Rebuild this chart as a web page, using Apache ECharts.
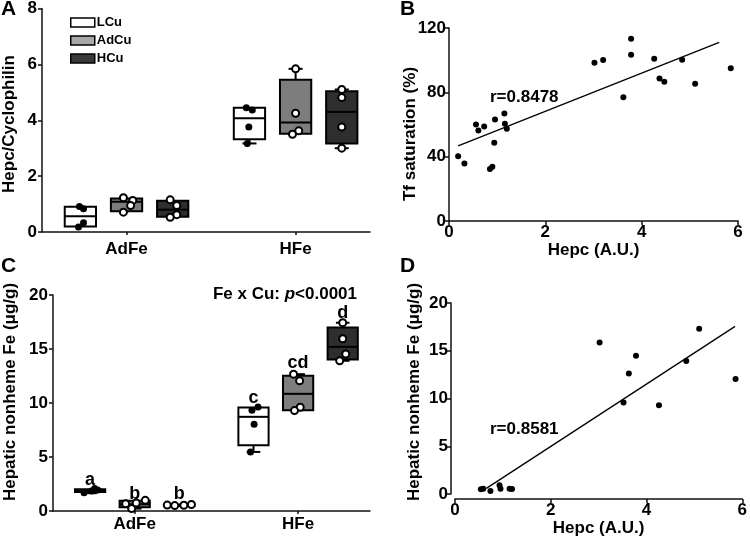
<!DOCTYPE html>
<html>
<head>
<meta charset="utf-8">
<script src="https://cdn.jsdelivr.net/npm/echarts@6/dist/echarts.min.js"></script>
<style>html,body{margin:0;padding:0;background:#fff}#c{width:750px;height:539px}</style>
</head>
<body>
<div id="c"></div>
<script>
// ---------- DATA ----------
const groups = ['LCu', 'AdCu', 'HCu'];
const categories = ['AdFe', 'HFe'];

// Panel A: Hepc/Cyclophilin, box stats [min, q1, median, q3, max] per category
const hepcBoxLCu  = [[0.18, 0.20, 0.56, 0.90, 0.91], [3.17, 3.32, 4.07, 4.45, 4.47]];
const hepcBoxAdCu = [[0.71, 0.74, 1.08, 1.20, 1.23], [3.50, 3.52, 3.92, 5.45, 5.84]];
const hepcBoxHCu  = [[0.53, 0.55, 0.80, 1.12, 1.15], [3.00, 3.17, 4.30, 5.04, 5.10]];
// Panel A: individual animals per category
const hepcPtsLCu  = [[0.91, 0.83, 0.33, 0.18], [4.45, 4.37, 3.76, 3.17]];
const hepcPtsAdCu = [[1.23, 1.13, 0.95, 0.71], [5.84, 4.25, 3.62, 3.50]];
const hepcPtsHCu  = [[1.15, 0.95, 0.62, 0.53], [5.10, 4.81, 3.76, 3.00]];
// horizontal jitter of the points, as a fraction of the box width
const hepcJitLCu  = [[-0.03, 0.1, 0.1, -0.06], [-0.1, 0.09, -0.02, -0.07]];
const hepcJitAdCu = [[-0.1, 0.2, 0.13, -0.1], [0, 0, 0.1, -0.1]];
const hepcJitHCu  = [[-0.08, 0.13, 0.13, -0.08], [0, 0, 0, 0]];

// Panel C: hepatic nonheme Fe (µg/g)
const feBoxLCu  = [[1.65, 1.75, 1.90, 2.02, 2.10], [5.47, 6.09, 8.72, 9.58, 9.64]];
const feBoxAdCu = [[0.22, 0.35, 0.62, 0.95, 0.99], [9.30, 9.34, 10.85, 12.52, 12.67]];
const feBoxHCu  = [[0.45, 0.47, 0.53, 0.60, 0.62], [13.91, 14.03, 15.20, 17.00, 17.43]];
const fePtsLCu  = [[1.68, 1.85, 1.95, 2.08], [9.34, 9.64, 8.04, 5.47]];
const fePtsAdCu = [[0.22, 0.68, 0.74, 0.99], [12.67, 12.06, 9.61, 9.30]];
const fePtsHCu  = [[0.55, 0.50, 0.53, 0.60], [17.43, 15.95, 14.53, 13.91]];
const feJitLCu  = [[-0.2, 0.05, 0.25, 0.15], [-0.05, 0.15, 0.02, -0.1]];
const feJitAdCu = [[-0.1, -0.3, 0.05, 0.35], [-0.15, 0.05, 0.07, -0.12]];
const feJitHCu  = [[-0.4, -0.15, 0.15, 0.4], [0, 0, 0.1, -0.1]];
const sigLetters = [['a', 'c'], ['b', 'cd'], ['b', 'd']];
const sigLevels  = [[2.9, 10.5], [1.6, 13.7], [1.6, 18.3]];

// Panel B: Hepc (A.U.) vs Tf saturation (%)
const hepcB = [0.19, 0.32, 0.56, 0.61, 0.73, 0.955, 0.94, 0.85, 0.90, 1.15, 1.16, 1.20,
               3.02, 3.20, 3.62, 3.78, 3.78, 4.26, 4.37, 4.47, 4.84, 5.11, 5.85];
const tfSat = [40.3, 35.7, 60.0, 56.3, 58.8, 63.1, 48.6, 32.4, 33.8, 66.8, 60.4, 57.3,
               98.4, 100.1, 77.0, 113.3, 103.4, 100.9, 88.6, 86.6, 100.3, 85.3, 94.9];
const fitBx = [0.19, 5.61];
const fitBy = [46.7, 111.1];
const rB = 'r=0.8478';

// Panel D: Hepc (A.U.) vs hepatic nonheme Fe
const hepcD = [0.54, 0.59, 0.74, 0.93, 0.95, 1.14, 1.19, 3.02, 3.52, 3.63, 3.78, 4.26, 4.83, 5.10, 5.86];
const feD   = [0.49, 0.56, 0.31, 0.91, 0.56, 0.56, 0.52, 15.87, 9.58, 12.62, 14.48, 9.30, 13.92, 17.31, 12.03];
const fitDx = [0.655, 5.85];
const fitDy = [0.59, 17.55];
const rD = 'r=0.8581';

// axis titles
const titleA = 'Hepc/Cyclophilin';
const titleB = 'Tf saturation (%)';
const titleFe = 'Hepatic nonheme Fe (μg/g)';
const titleHepc = 'Hepc (A.U.)';

// ---------- STYLE ----------
const FONT = "'Liberation Sans', Arial, Helvetica, sans-serif";
const INK = '#000';
const boxFill = ['#ffffff', '#7d7d7d', '#2e2e2e'];
const legendFill = ['#ffffff', '#a8a8a8', '#3a3a3a'];
const GROUP_OFFSET = 0.273;  // in category units
const BOX_W = 0.185;

const lbl = {color: INK, fontSize: 17, fontWeight: 'bold', fontFamily: FONT};
function axisBase(extra) {
  return Object.assign({
    axisLine: {show: true, onZero: false, lineStyle: {color: '#111', width: 1.5}},
    axisTick: {show: true, length: 4, lineStyle: {color: '#111', width: 1.5}},
    axisLabel: Object.assign({margin: 5}, lbl),
    splitLine: {show: false},
    nameLocation: 'middle',
    nameTextStyle: Object.assign({}, lbl)
  }, extra);
}
function catAxis(grid, margin) {
  return axisBase({
    type: 'value', gridIndex: grid, min: 0.5, max: 2.44,
    axisLabel: Object.assign({}, lbl, {margin: margin, customValues: [1, 2],
      formatter: v => categories[Math.round(v) - 1] || ''}),
    axisTick: {show: true, length: 3, customValues: [1, 2], lineStyle: {color: '#111', width: 1.5}}
  });
}

function renderBox(params, api) {
  const x = api.value(0);
  const ys = [1, 2, 3, 4, 5].map(i => api.coord([x, api.value(i)])[1]);
  const cx = api.coord([x, api.value(3)])[0];
  const w = api.size([BOX_W, 0])[0];
  const cap = w * 0.45;
  const st = {stroke: INK, lineWidth: 2, fill: null};
  const ch = [];
  if (Math.abs(ys[0] - ys[1]) > 1) {
    ch.push({type: 'line', shape: {x1: cx, y1: ys[1], x2: cx, y2: ys[0]}, style: st});
    ch.push({type: 'line', shape: {x1: cx - cap / 2, y1: ys[0], x2: cx + cap / 2, y2: ys[0]}, style: st});
  }
  if (Math.abs(ys[4] - ys[3]) > 1) {
    ch.push({type: 'line', shape: {x1: cx, y1: ys[3], x2: cx, y2: ys[4]}, style: st});
    ch.push({type: 'line', shape: {x1: cx - cap / 2, y1: ys[4], x2: cx + cap / 2, y2: ys[4]}, style: st});
  }
  ch.push({type: 'rect', shape: {x: cx - w / 2, y: ys[3], width: w, height: ys[1] - ys[3]},
           style: {fill: api.visual('color'), stroke: INK, lineWidth: 2}});
  ch.push({type: 'line', shape: {x1: cx - w / 2, y1: ys[2], x2: cx + w / 2, y2: ys[2]}, style: st});
  return {type: 'group', children: ch};
}

function boxSeries(g, boxes, axisIdx) {
  return {
    type: 'custom', name: groups[g], xAxisIndex: axisIdx, yAxisIndex: axisIdx,
    itemStyle: {color: boxFill[g]},
    renderItem: renderBox,
    encode: {x: 0, y: [1, 2, 3, 4, 5]},
    data: boxes.map((b, c) => [c + 1 + (g - 1) * GROUP_OFFSET].concat(b)),
    z: 2
  };
}
function pointSeries(g, pts, jit, axisIdx) {
  const data = [];
  pts.forEach((arr, c) => arr.forEach((v, i) => {
    data.push([c + 1 + (g - 1) * GROUP_OFFSET + jit[c][i] * BOX_W, v]);
  }));
  const filled = g === 0;
  return {
    type: 'scatter', name: groups[g], xAxisIndex: axisIdx, yAxisIndex: axisIdx,
    symbolSize: 7,
    itemStyle: filled ? {color: INK, opacity: 1} : {color: '#fff', borderColor: INK, borderWidth: 2, opacity: 1},
    data: data, z: 5, silent: true
  };
}

const hepcBoxes = [hepcBoxLCu, hepcBoxAdCu, hepcBoxHCu];
const hepcPts = [hepcPtsLCu, hepcPtsAdCu, hepcPtsHCu];
const hepcJit = [hepcJitLCu, hepcJitAdCu, hepcJitHCu];
const feBoxes = [feBoxLCu, feBoxAdCu, feBoxHCu];
const fePts = [fePtsLCu, fePtsAdCu, fePtsHCu];
const feJit = [feJitLCu, feJitAdCu, feJitHCu];

const series = [];
[0, 1, 2].forEach(g => series.push(boxSeries(g, hepcBoxes[g], 0)));
[0, 1, 2].forEach(g => series.push(pointSeries(g, hepcPts[g], hepcJit[g], 0)));
[0, 1, 2].forEach(g => series.push(boxSeries(g, feBoxes[g], 2)));
[0, 1, 2].forEach(g => series.push(pointSeries(g, fePts[g], feJit[g], 2)));
// significance letters in C
const sigData = [];
[0, 1, 2].forEach(g => [0, 1].forEach(c => {
  sigData.push({name: sigLetters[g][c], value: [c + 1 + (g - 1) * GROUP_OFFSET, sigLevels[g][c]]});
}));
series.push({
  type: 'scatter', xAxisIndex: 2, yAxisIndex: 2, symbolSize: 1, silent: true,
  itemStyle: {color: 'rgba(0,0,0,0)', opacity: 1},
  label: Object.assign({show: true, position: 'inside', formatter: '{b}'}, lbl, {fontSize: 18, color: '#000', opacity: 1}),
  data: sigData, z: 6
});
// B
series.push({type: 'scatter', xAxisIndex: 1, yAxisIndex: 1, symbolSize: 6, itemStyle: {color: INK, opacity: 1},
  data: hepcB.map((x, i) => [x, tfSat[i]]), silent: true});
series.push({type: 'line', xAxisIndex: 1, yAxisIndex: 1, symbol: 'none', silent: true,
  lineStyle: {color: INK, width: 1.3}, data: fitBx.map((x, i) => [x, fitBy[i]])});
// D
series.push({type: 'scatter', xAxisIndex: 3, yAxisIndex: 3, symbolSize: 6, itemStyle: {color: INK, opacity: 1},
  data: hepcD.map((x, i) => [x, feD[i]]), silent: true});
series.push({type: 'line', xAxisIndex: 3, yAxisIndex: 3, symbol: 'none', silent: true,
  lineStyle: {color: INK, width: 1.3}, data: fitDx.map((x, i) => [x, fitDy[i]])});

function vTitle(text, x, y) {
  return {type: 'text', x: x, y: y, rotation: Math.PI / 2,
    style: {text: text, font: 'bold 17px ' + FONT, fill: INK, textAlign: 'center', textVerticalAlign: 'middle'}};
}

const option = {
  animation: false,
  backgroundColor: '#fff',
  grid: [
    {left: 42, top: 7, width: 328, height: 225},
    {left: 449, top: 28, width: 289, height: 193},
    {left: 53, top: 295, width: 317, height: 216},
    {left: 455, top: 303, width: 288, height: 191}
  ],
  xAxis: [
    catAxis(0, 9),
    axisBase({type: 'value', gridIndex: 1, min: 0, max: 6, interval: 2, name: titleHepc, nameGap: 21,
      axisLabel: Object.assign({}, lbl, {margin: 3})}),
    catAxis(2, 5),
    axisBase({type: 'value', gridIndex: 3, min: 0, max: 6, interval: 2, offset: 5, name: titleHepc, nameGap: 15,
      axisLabel: Object.assign({}, lbl, {margin: 3})})
  ],
  yAxis: [
    axisBase({type: 'value', gridIndex: 0, min: 0, max: 8, interval: 2}),
    axisBase({type: 'value', gridIndex: 1, min: 0, max: 120, interval: 40, axisLabel: Object.assign({}, lbl, {margin: 3})}),
    axisBase({type: 'value', gridIndex: 2, min: 0, max: 20, interval: 5}),
    axisBase({type: 'value', gridIndex: 3, min: 0, max: 20, interval: 5, offset: 4, axisLabel: Object.assign({}, lbl, {margin: 3})})
  ],
  legend: {
    left: 65, top: 11, orient: 'vertical', icon: 'rect', itemWidth: 24, itemHeight: 9, itemGap: 5,
    selectedMode: false,
    textStyle: {color: INK, fontSize: 13, fontWeight: 'bold', fontFamily: "'Liberation Sans Narrow', " + FONT, padding: [0, 0, 0, -3]},
    data: groups.map((n, i) => ({name: n, itemStyle: {color: legendFill[i], borderColor: INK, borderWidth: 1.5}}))
  },
  graphic: [
    {type: 'text', left: 1, top: -1, style: {text: 'A', font: 'bold 21px ' + FONT, fill: INK}},
    {type: 'text', left: 400, top: -1, style: {text: 'B', font: 'bold 21px ' + FONT, fill: INK}},
    {type: 'text', left: 1, top: 256, style: {text: 'C', font: 'bold 21px ' + FONT, fill: INK}},
    {type: 'text', left: 400, top: 256, style: {text: 'D', font: 'bold 21px ' + FONT, fill: INK}},
    vTitle(titleA, 9, 124),
    vTitle(titleB, 410, 134),
    vTitle(titleFe, 10, 392),
    vTitle(titleFe, 414, 392),
    {type: 'text', x: 490, y: 97, style: {text: rB, font: 'bold 17px ' + FONT, fill: INK, textVerticalAlign: 'middle'}},
    {type: 'text', x: 490, y: 429, style: {text: rD, font: 'bold 17px ' + FONT, fill: INK, textVerticalAlign: 'middle'}},
    {type: 'text', x: 357, y: 294, style: {
      text: 'Fe x Cu: {i|p}<0.0001', font: 'bold 17px ' + FONT, fill: INK,
      textAlign: 'right', textVerticalAlign: 'middle',
      rich: {i: {fontStyle: 'italic', fontWeight: 'bold', fontSize: 17, fontFamily: FONT, fill: INK}}
    }}
  ],
  series: series
};

const chart = echarts.init(document.getElementById('c'), null, {renderer: 'canvas'});
chart.setOption(option);
</script>
</body>
</html>
